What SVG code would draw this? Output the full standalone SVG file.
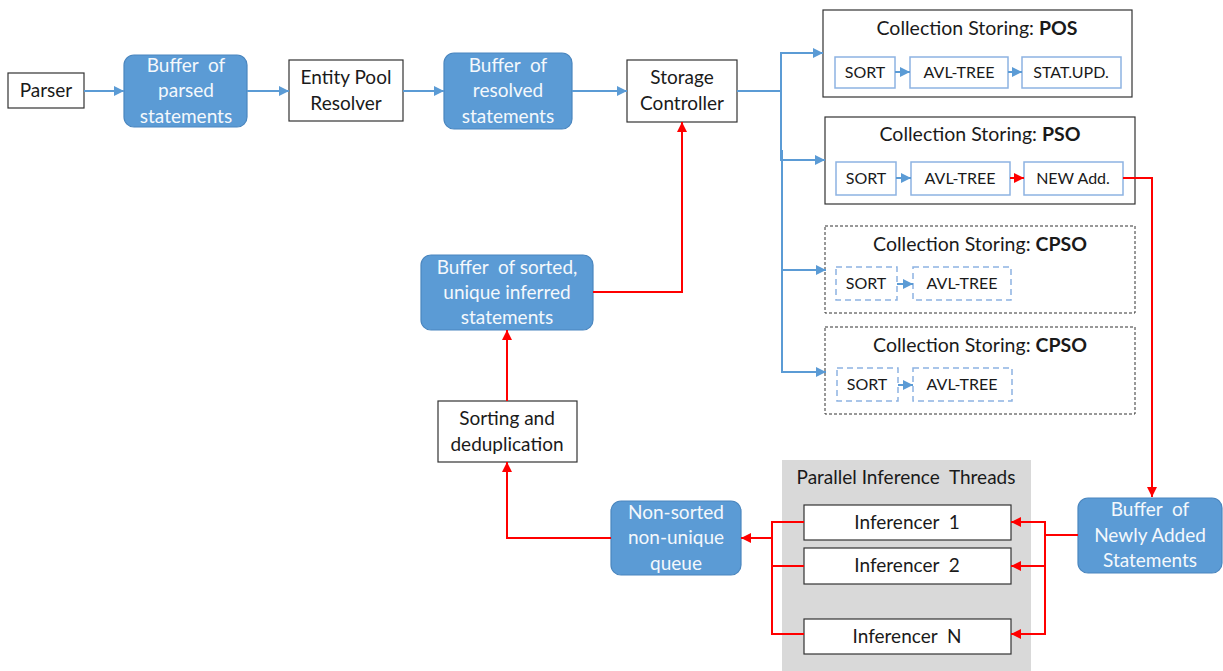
<svg xmlns="http://www.w3.org/2000/svg" width="1223" height="671" viewBox="0 0 1223 671">
<defs>
<marker id="ab" markerUnits="userSpaceOnUse" markerWidth="10" markerHeight="10" viewBox="0 0 10 10" refX="10" refY="5" orient="auto"><path d="M0,0 L10,5 L0,10 z" fill="#5b9bd5"/></marker>
<marker id="ar" markerUnits="userSpaceOnUse" markerWidth="10" markerHeight="10" viewBox="0 0 10 10" refX="10" refY="5" orient="auto"><path d="M0,0 L10,5 L0,10 z" fill="#ff0000"/></marker>
</defs>
<style>
text{font-family:Lato,"Open Sans","Liberation Sans",sans-serif;font-size:19px;fill:#1a1a1a;text-anchor:middle}
.box{fill:#fff;stroke:#333;stroke-width:1.2}
.buf{fill:#5b9bd5;stroke:#4a86bf;stroke-width:1.2}
.wt{fill:#f4f8fc}
.dash{fill:#fff;stroke:#333;stroke-width:1;stroke-dasharray:3,2}
.inner{fill:#fff;stroke:#8db3e2;stroke-width:1.5}
.innerd{fill:#fff;stroke:#8db3e2;stroke-width:1.5;stroke-dasharray:6,4}
.sm{font-size:16px}
.tt{font-size:19.5px}
.b{font-weight:bold}
.blue{fill:none;stroke:#5b9bd5;stroke-width:2}
.red{fill:none;stroke:#ff0000;stroke-width:2}
</style>
<rect x="0" y="0" width="1223" height="671" fill="#fff"/>
<g id="threads">
<rect x="782" y="460" width="249" height="211" fill="#d9d9d9"/>
<text x="906" y="484">Parallel Inference&#160; Threads</text>
</g>
<g id="parser">
<rect class="box" x="8" y="73" width="76" height="35"/>
<text x="46" y="97">Parser</text>
</g>
<g id="buf-parsed">
<rect class="buf" x="124" y="55" width="123" height="72" rx="10"/>
<text class="wt" x="186" y="72">Buffer&#160; of</text>
<text class="wt" x="186" y="97">parsed</text>
<text class="wt" x="186" y="123">statements</text>
</g>
<g id="entity-pool">
<rect class="box" x="289" y="60" width="114" height="61"/>
<text x="346" y="84">Entity Pool</text>
<text x="346" y="110">Resolver</text>
</g>
<g id="buf-resolved">
<rect class="buf" x="444" y="53" width="128" height="76" rx="10"/>
<text class="wt" x="508" y="72">Buffer&#160; of</text>
<text class="wt" x="508" y="97">resolved</text>
<text class="wt" x="508" y="123">statements</text>
</g>
<g id="storage-controller">
<rect class="box" x="627" y="60" width="110" height="62"/>
<text x="682" y="84">Storage</text>
<text x="682" y="110">Controller</text>
</g>
<g id="pos">
<rect class="box" x="823" y="10" width="309" height="87"/>
<text class="tt" x="977" y="35">Collection Storing: <tspan class="b">POS</tspan></text>
<rect class="inner" x="835" y="57" width="60" height="31"/>
<text class="sm" x="865" y="78">SORT</text>
<rect class="inner" x="910" y="57" width="98" height="31"/>
<text class="sm" x="959" y="78">AVL-TREE</text>
<rect class="inner" x="1022" y="57" width="99" height="31"/>
<text class="sm" x="1071" y="78">STAT.UPD.</text>
</g>
<g id="pso">
<rect class="box" x="825" y="117" width="310" height="87"/>
<text class="tt" x="980" y="141">Collection Storing: <tspan class="b">PSO</tspan></text>
<rect class="inner" x="836" y="162" width="60" height="33"/>
<text class="sm" x="866" y="184">SORT</text>
<rect class="inner" x="911" y="162" width="99" height="33"/>
<text class="sm" x="960" y="184">AVL-TREE</text>
<rect class="inner" x="1024" y="162" width="99" height="33"/>
<text class="sm" x="1073" y="184">NEW Add.</text>
</g>
<g id="cpso1">
<rect class="dash" x="825" y="226" width="310" height="87"/>
<text class="tt" x="980" y="251">Collection Storing: <tspan class="b">CPSO</tspan></text>
<rect class="innerd" x="836" y="267" width="61" height="33"/>
<text class="sm" x="866" y="289">SORT</text>
<rect class="innerd" x="913" y="267" width="98" height="33"/>
<text class="sm" x="962" y="289">AVL-TREE</text>
</g>
<g id="cpso2">
<rect class="dash" x="825" y="327" width="310" height="87"/>
<text class="tt" x="980" y="352">Collection Storing: <tspan class="b">CPSO</tspan></text>
<rect class="innerd" x="837" y="368" width="61" height="33"/>
<text class="sm" x="867" y="390">SORT</text>
<rect class="innerd" x="913" y="368" width="99" height="33"/>
<text class="sm" x="962" y="390">AVL-TREE</text>
</g>
<g id="buf-sorted">
<rect class="buf" x="421" y="255" width="172" height="75" rx="10"/>
<text class="wt" x="507" y="274">Buffer&#160; of sorted,</text>
<text class="wt" x="507" y="299">unique inferred</text>
<text class="wt" x="507" y="324">statements</text>
</g>
<g id="sorting">
<rect class="box" x="438" y="401" width="139" height="61"/>
<text x="507" y="425">Sorting and</text>
<text x="507" y="451">deduplication</text>
</g>
<g id="queue">
<rect class="buf" x="611" y="501" width="130" height="74" rx="10"/>
<text class="wt" x="676" y="519">Non-sorted</text>
<text class="wt" x="676" y="544">non-unique</text>
<text class="wt" x="676" y="570">queue</text>
</g>
<g id="inf1">
<rect class="box" x="804" y="505" width="207" height="35"/>
<text x="907" y="529">Inferencer&#160; 1</text>
</g>
<g id="inf2">
<rect class="box" x="804" y="548" width="207" height="36"/>
<text x="907" y="572">Inferencer&#160; 2</text>
</g>
<g id="infN">
<rect class="box" x="804" y="619" width="207" height="35"/>
<text x="907" y="643">Inferencer&#160; N</text>
</g>
<g id="buf-new">
<rect class="buf" x="1078" y="498" width="144" height="75" rx="10"/>
<text class="wt" x="1150" y="516">Buffer&#160; of</text>
<text class="wt" x="1150" y="542">Newly Added</text>
<text class="wt" x="1150" y="567">Statements</text>
</g>
<g id="connectors">
<path class="blue" d="M84,91 H124" marker-end="url(#ab)"/>
<path class="blue" d="M247,91 H289" marker-end="url(#ab)"/>
<path class="blue" d="M403,91 H444" marker-end="url(#ab)"/>
<path class="blue" d="M572,91 H627" marker-end="url(#ab)"/>
<path class="blue" d="M737,91 H781 V53 H823" marker-end="url(#ab)"/>
<path class="blue" d="M781,91 V160 H825" marker-end="url(#ab)"/>
<path class="blue" d="M782,150 V270 H826" marker-end="url(#ab)"/>
<path class="blue" d="M782,260 V372 H826" marker-end="url(#ab)"/>
<path class="blue" d="M895,72 H910" marker-end="url(#ab)"/>
<path class="blue" d="M1008,72 H1022" marker-end="url(#ab)"/>
<path class="blue" d="M896,178 H911" marker-end="url(#ab)"/>
<path class="red" d="M1010,178 H1024" marker-end="url(#ar)"/>
<path class="blue" d="M897,284 H913" marker-end="url(#ab)"/>
<path class="blue" d="M898,385 H913" marker-end="url(#ab)"/>
<path class="red" d="M1123,178 H1152 V497" marker-end="url(#ar)"/>
<path class="red" d="M1078,535 H1045 V522 H1011" marker-end="url(#ar)"/>
<path class="red" d="M1045,522 V566 H1011" marker-end="url(#ar)"/>
<path class="red" d="M1045,566 V634 H1011" marker-end="url(#ar)"/>
<path class="red" d="M804,522 H772 V634 H804"/>
<path class="red" d="M772,566 H804"/>
<path class="red" d="M772,538 H741" marker-end="url(#ar)"/>
<path class="red" d="M611,538 H507 V462" marker-end="url(#ar)"/>
<path class="red" d="M507,401 V330" marker-end="url(#ar)"/>
<path class="red" d="M593,292 H682 V122" marker-end="url(#ar)"/>
</g>
</svg>
